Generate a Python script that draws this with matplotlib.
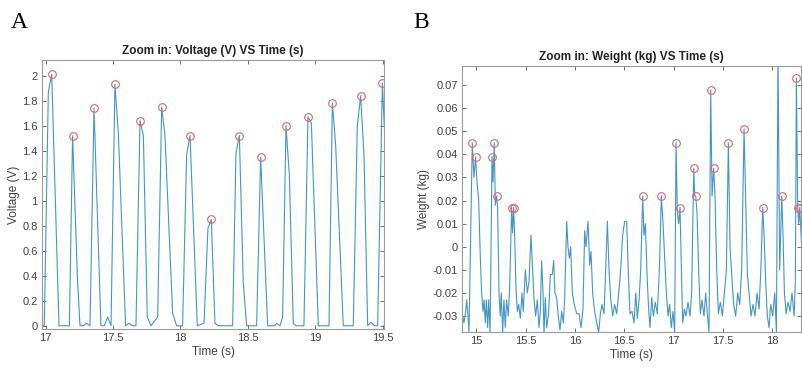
import matplotlib
matplotlib.use("Agg")
import matplotlib.pyplot as plt
import numpy as np
from matplotlib.ticker import FormatStrFormatter

plt.rcParams['font.family'] = ['Liberation Sans', 'DejaVu Sans']

# ---- Panel A: voltage vs time ----
voltTime = [16.975, 16.990, 17.020, 17.045, 17.099, 17.176, 17.200, 17.235, 17.255, 17.279,
            17.304, 17.329, 17.359, 17.410, 17.435, 17.460, 17.485, 17.514, 17.539, 17.593,
            17.618, 17.645, 17.670, 17.700, 17.725, 17.754, 17.781, 17.831, 17.861, 17.885,
            17.942, 17.972, 18.016, 18.046, 18.071, 18.125, 18.175, 18.204, 18.229, 18.256,
            18.281, 18.387, 18.412, 18.437, 18.466, 18.491, 18.565, 18.595, 18.647, 18.701,
            18.714, 18.738, 18.758, 18.783, 18.808, 18.837, 18.857, 18.916, 18.946, 18.971,
            19.023, 19.102, 19.127, 19.151, 19.208, 19.282, 19.312, 19.337, 19.362, 19.389,
            19.413, 19.438, 19.463, 19.498, 19.512]
voltage = [0.0, 0.0, 1.87, 2.01, 0.0, 0.0, 1.52, 0.4, 0.0, 0.0,
           0.02, 0.0, 1.74, 0.0, 0.0, 0.07, 0.0, 1.93, 1.55, 0.0,
           0.02, 0.0, 0.0, 1.64, 1.52, 0.07, 0.0, 0.07, 1.75, 1.52,
           0.1, 0.0, 0.0, 1.37, 1.52, 0.0, 0.02, 0.78, 0.85, 0.02,
           0.0, 0.0, 1.38, 1.52, 0.35, 0.0, 0.0, 1.35, 0.0, 0.0,
           0.02, 0.0, 0.07, 1.60, 1.2, 0.02, 0.0, 0.0, 1.67, 1.62,
           0.0, 0.0, 1.78, 1.45, 0.0, 0.0, 1.6, 1.84, 1.35, 0.0,
           0.03, 0.0, 0.0, 1.94, 1.6]
voltPeakTime = [17.045, 17.200, 17.359, 17.514, 17.700, 17.861, 18.071, 18.229,
                18.437, 18.595, 18.783, 18.946, 19.127, 19.337, 19.498]
voltPeak = [2.01, 1.52, 1.74, 1.93, 1.64, 1.75, 1.52, 0.85,
            1.52, 1.35, 1.60, 1.67, 1.78, 1.84, 1.94]

# ---- Panel B: weight vs time ----
weightTime = [14.858, 14.875, 14.892, 14.902, 14.916, 14.926, 14.959, 14.976, 14.993, 15.007,
              15.024, 15.041, 15.054, 15.068, 15.078, 15.091, 15.101, 15.115, 15.125, 15.139,
              15.145, 15.159, 15.169, 15.182, 15.193, 15.206, 15.216, 15.230, 15.243, 15.253,
              15.267, 15.280, 15.294, 15.307, 15.324, 15.338, 15.358, 15.368, 15.378, 15.389,
              15.402, 15.416, 15.429, 15.446, 15.463, 15.476, 15.497, 15.517, 15.534, 15.554,
              15.571, 15.584, 15.601, 15.618, 15.635, 15.649, 15.662, 15.676, 15.686, 15.699,
              15.713, 15.733, 15.750, 15.770, 15.784, 15.797, 15.814, 15.831, 15.848, 15.865,
              15.882, 15.895, 15.916, 15.929, 15.943, 15.956, 15.973, 15.993, 16.017, 16.041,
              16.061, 16.081, 16.098, 16.111, 16.132, 16.149, 16.162, 16.179, 16.199, 16.220,
              16.240, 16.257, 16.274, 16.294, 16.311, 16.328, 16.345, 16.361, 16.382, 16.402,
              16.422, 16.443, 16.463, 16.483, 16.503, 16.524, 16.541, 16.557, 16.578, 16.598,
              16.615, 16.632, 16.649, 16.666, 16.686, 16.699, 16.713, 16.730, 16.747, 16.760,
              16.777, 16.794, 16.814, 16.834, 16.855, 16.875, 16.892, 16.909, 16.926, 16.943,
              16.959, 16.976, 16.993, 17.010, 17.024, 17.037, 17.051, 17.064, 17.078, 17.091,
              17.108, 17.125, 17.145, 17.166, 17.182, 17.203, 17.213, 17.223, 17.236, 17.253,
              17.270, 17.287, 17.307, 17.324, 17.341, 17.358, 17.375, 17.389, 17.405, 17.419,
              17.436, 17.453, 17.473, 17.493, 17.514, 17.534, 17.554, 17.571, 17.588, 17.608,
              17.628, 17.649, 17.669, 17.689, 17.713, 17.730, 17.747, 17.764, 17.784, 17.804,
              17.824, 17.845, 17.865, 17.885, 17.902, 17.916, 17.932, 17.949, 17.966, 17.983,
              18.003, 18.024, 18.041, 18.057, 18.074, 18.095, 18.108, 18.122, 18.139, 18.159,
              18.179, 18.199, 18.220, 18.233, 18.243, 18.257, 18.267, 18.277, 18.291, 18.311]
weight = [-0.029, -0.033, -0.028, -0.023, -0.030, -0.037, 0.045, 0.030, 0.039, 0.028,
          0.020, -0.005, -0.020, -0.028, -0.023, -0.033, -0.023, -0.035, -0.023, -0.037,
          -0.018, 0.039, 0.028, 0.045, 0.018, 0.022, 0.017, -0.020, -0.030, -0.020,
          -0.037, -0.023, -0.035, -0.023, -0.030, -0.018, 0.017, 0.006, 0.017, 0.005,
          -0.018, -0.028, -0.025, -0.031, -0.020, -0.028, -0.010, -0.020, -0.015, 0.005,
          -0.010, -0.022, -0.030, -0.023, -0.035, -0.028, -0.006, -0.020, -0.038, -0.022,
          -0.035, -0.029, -0.012, -0.012, -0.006, -0.020, -0.022, -0.030, -0.036, -0.028,
          -0.033, -0.023, 0.011, 0.000, -0.005, 0.000, -0.020, -0.025, -0.029, -0.029,
          -0.035, -0.027, 0.007, 0.000, 0.011, -0.008, -0.002, -0.020, -0.028, -0.033,
          -0.037, -0.029, -0.025, -0.029, -0.010, 0.011, -0.010, -0.022, -0.030, -0.025,
          -0.029, -0.020, -0.010, 0.005, 0.011, 0.011, -0.012, -0.029, -0.028, -0.033,
          -0.020, -0.031, -0.023, -0.010, 0.022, 0.005, 0.010, -0.012, -0.028, -0.035,
          -0.022, -0.030, -0.024, -0.029, -0.010, 0.022, 0.010, -0.005, -0.020, -0.030,
          -0.025, -0.035, -0.028, -0.037, 0.045, 0.015, 0.010, 0.017, -0.010, -0.033,
          -0.027, -0.030, -0.024, -0.030, -0.020, 0.034, 0.022, 0.022, 0.015, -0.010,
          -0.029, -0.023, -0.030, -0.020, -0.029, -0.037, 0.068, 0.022, 0.034, 0.022,
          -0.010, -0.029, -0.024, -0.030, -0.020, -0.010, 0.045, 0.000, -0.012, -0.025,
          -0.030, -0.020, -0.025, -0.010, 0.051, 0.020, -0.012, -0.020, -0.030, -0.025,
          -0.030, -0.020, -0.027, -0.008, 0.017, 0.005, -0.015, -0.030, -0.035, -0.025,
          -0.030, -0.020, -0.037, 0.085, -0.010, 0.022, 0.005, -0.020, -0.029, -0.024,
          -0.028, -0.020, -0.030, -0.015, 0.073, 0.017, 0.010, 0.017, 0.005, -0.010]
weightPeakTime = [14.959, 14.993, 15.159, 15.182, 15.206, 15.358, 15.378, 16.686, 16.875,
                  17.024, 17.064, 17.203, 17.223, 17.375, 17.405, 17.554, 17.713, 17.902,
                  18.095, 18.243, 18.260, 18.280]
weightPeak = [0.045, 0.039, 0.039, 0.045, 0.022, 0.017, 0.017, 0.022, 0.022,
              0.045, 0.017, 0.034, 0.022, 0.068, 0.034, 0.045, 0.051, 0.017,
              0.022, 0.073, 0.017, 0.017]

voltTicks = [0, 0.2, 0.4, 0.6, 0.8, 1, 1.2, 1.4, 1.6, 1.8, 2]
weightTicks = [-0.03, -0.02, -0.01, 0, 0.01, 0.02, 0.03, 0.04, 0.05, 0.06, 0.07]

lineColor = '#4596c8'
peakColor = '#e06666'
gray = '#404040'


def styleAxes(ax):
    for s in ax.spines.values():
        s.set_color('#9a9a9a')
        s.set_linewidth(0.8)
    ax.tick_params(direction='in', top=True, right=True, length=3, width=0.6,
                   color='#555555', labelcolor=gray, labelsize=8, pad=3)
    ax.xaxis.set_major_formatter(FormatStrFormatter('%g'))
    ax.yaxis.set_major_formatter(FormatStrFormatter('%g'))


fig = plt.figure(figsize=(8.03, 3.67), dpi=100)

# Panel A
ax1 = fig.add_axes([0.0523, 0.1035, 0.4259, 0.733])
ax1.plot(voltTime, voltage, color=lineColor, linewidth=0.8)
ax1.plot(voltPeakTime, voltPeak, 'o', mfc='none', mec=peakColor, ms=5.5, mew=0.8)
ax1.set_xlim(16.973, 19.51)
ax1.set_ylim(-0.026, 2.125)
ax1.set_xticks([17, 17.5, 18, 18.5, 19, 19.5])
ax1.set_yticks(voltTicks)
styleAxes(ax1)
ax1.set_title('Zoom in: Voltage (V) VS Time (s)', fontsize=8.5, fontweight='bold',
              color='#222222', pad=4)
ax1.set_xlabel('Time (s)', fontsize=8.5, color=gray, labelpad=2)
ax1.set_ylabel('Voltage (V)', fontsize=8.5, color=gray, labelpad=2)
fig.text(0.013, 0.925, 'A', fontsize=17, family='Liberation Serif')

# Panel B
ax2 = fig.add_axes([0.5757, 0.0954, 0.4218, 0.7256])
ax2.plot(weightTime, weight, color=lineColor, linewidth=0.8)
ax2.plot(weightPeakTime, weightPeak, 'o', mfc='none', mec=peakColor, ms=5.5, mew=0.8)
ax2.set_xlim(14.858, 18.29)
ax2.set_ylim(-0.0369, 0.0784)
ax2.set_xticks([15, 15.5, 16, 16.5, 17, 17.5, 18])
ax2.set_yticks(weightTicks)
styleAxes(ax2)
ax2.set_title('Zoom in: Weight (kg) VS Time (s)', fontsize=8.5, fontweight='bold',
              color='#222222', pad=4)
ax2.set_xlabel('Time (s)', fontsize=8.5, color=gray, labelpad=2)
ax2.set_ylabel('Weight (kg)', fontsize=8.5, color=gray, labelpad=2)
fig.text(0.515, 0.925, 'B', fontsize=17, family='Liberation Serif')

fig.savefig('out.png', dpi=100, facecolor='white')
